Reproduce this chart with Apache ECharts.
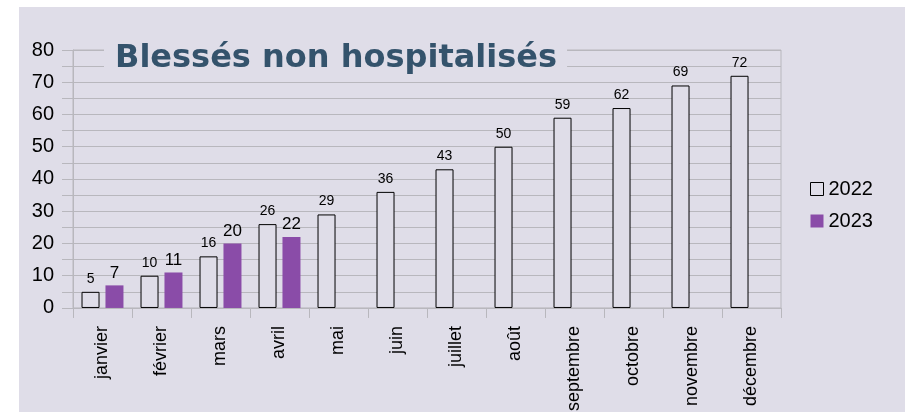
<!DOCTYPE html>
<html>
<head>
<meta charset="utf-8">
<script src="https://cdn.jsdelivr.net/npm/echarts@6/dist/echarts.min.js"></script>
<style>
    html, body { margin: 0; padding: 0; background: #fff; }
    #chart { width: 905px; height: 414px; }
</style>
</head>
<body>
<div id="chart"></div>
<script>
var months = ['janvier','février','mars','avril','mai','juin','juillet','août','septembre','octobre','novembre','décembre'];
var values2022 = [5, 10, 16, 26, 29, 36, 43, 50, 59, 62, 69, 72];
var values2023 = [7, 11, 20, 22, null, null, null, null, null, null, null, null];
var yTicks = [0, 10, 20, 30, 40, 50, 60, 70, 80];

var bg = '#dfdde8';
var gridGray = '#b8b7bd';

var chart = echarts.init(document.getElementById('chart'));

var option = {
    textStyle: { fontFamily: 'Liberation Sans' },
    graphic: [
        {
            type: 'rect',
            z: -10,
            shape: { x: 19, y: 7, width: 886, height: 405 },
            style: { fill: bg }
        }
    ],
    title: {
        text: 'Blessés non hospitalisés',
        left: 104,
        top: 37,
        padding: [6, 10, 3, 11],
        backgroundColor: bg,
        textStyle: {
            fontFamily: 'DejaVu Sans',
            fontWeight: 'bold',
            fontSize: 32,
            color: '#34536c'
        }
    },
    legend: {
        orient: 'vertical',
        left: 805,
        top: 174,
        itemWidth: 13,
        itemHeight: 13,
        itemGap: 12,
        icon: 'rect',
        itemStyle: { borderWidth: 1 },
        textStyle: { fontSize: 20, color: '#000', fontFamily: 'Liberation Sans' },
        data: ['2022', '2023']
    },
    grid: {
        left: 73,
        right: 124,
        top: 50,
        bottom: 104,
        show: true,
        borderColor: gridGray,
        borderWidth: 1
    },
    xAxis: {
        type: 'category',
        data: months,
        axisLine: { lineStyle: { color: gridGray } },
        axisTick: { show: true, length: 10, lineStyle: { color: gridGray } },
        axisLabel: {
            rotate: 90,
            margin: 18,
            fontSize: 18,
            color: '#000',
            interval: 0
        }
    },
    yAxis: {
        type: 'value',
        min: yTicks[0],
        max: yTicks[yTicks.length - 1],
        interval: 10,
        axisLine: { show: true, lineStyle: { color: gridGray } },
        axisTick: { show: true, length: 11, lineStyle: { color: gridGray } },
        minorTick: { show: true, splitNumber: 2, length: 11, lineStyle: { color: gridGray } },
        splitLine: { lineStyle: { color: gridGray } },
        minorSplitLine: { show: true, lineStyle: { color: gridGray } },
        axisLabel: { fontSize: 20, color: '#000', margin: 19 }
    },
    series: [
        {
            name: '2022',
            type: 'bar',
            barWidth: 18,
            barGap: '33%',
            data: values2022,
            itemStyle: { color: bg, borderColor: '#000', borderWidth: 1 },
            label: { show: true, position: 'top', distance: 6, fontSize: 14, color: '#000' }
        },
        {
            name: '2023',
            type: 'bar',
            barWidth: 18,
            data: values2023,
            itemStyle: { color: '#8a4ca8' },
            label: { show: true, position: 'top', distance: 4, fontSize: 17, color: '#000' }
        }
    ]
};

chart.setOption(option);
</script>
</body>
</html>
